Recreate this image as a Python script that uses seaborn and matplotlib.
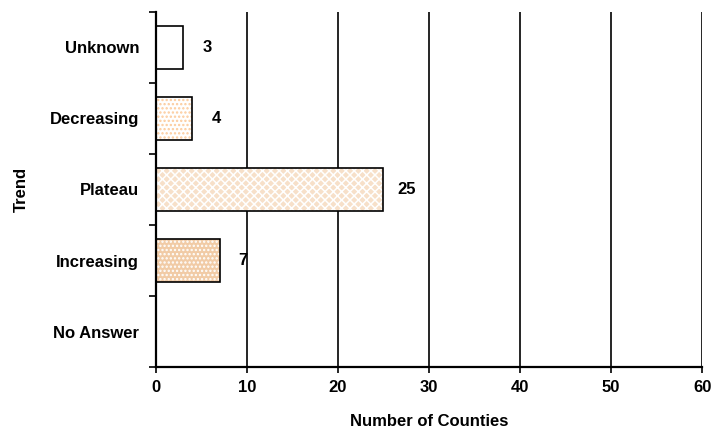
import numpy as np
import pandas as pd
import matplotlib
matplotlib.use("Agg")
import matplotlib.pyplot as plt
import seaborn as sns

# data
trends = ["Unknown", "Decreasing", "Plateau", "Increasing", "No Answer"]
counties = [3, 4, 25, 7, 0]
x_ticks = [0, 10, 20, 30, 40, 50, 60]

# look of each bar: fill, hatch pattern, hatch colour
bar_fill = {"Unknown": "white", "Decreasing": "white", "Plateau": "#FEE0C2",
            "Increasing": "#FDCB9A", "No Answer": "white"}
bar_hatch = {"Unknown": "", "Decreasing": "....", "Plateau": "xxxx",
             "Increasing": "....", "No Answer": ""}
hatch_col = {"Unknown": "white", "Decreasing": "#FCCB9C", "Plateau": "white",
             "Increasing": "white", "No Answer": "white"}

df = pd.DataFrame({"Trend": trends, "Counties": counties})

sns.set_style("white")
plt.rcParams["font.family"] = ["Liberation Sans", "DejaVu Sans"]
plt.rcParams["font.weight"] = "bold"
plt.rcParams["text.color"] = "black"
plt.rcParams["axes.labelcolor"] = "black"
plt.rcParams["xtick.color"] = "black"
plt.rcParams["ytick.color"] = "black"
plt.rcParams["hatch.linewidth"] = 1.1

fs = 12

fig = plt.figure(figsize=(7.15, 4.28), dpi=100)
ax = fig.add_axes([0.218, 0.1425, 0.764, 0.8295])

# hatched fill layer
sns.barplot(data=df, x="Counties", y="Trend", hue="Trend", order=trends,
            hue_order=trends, palette=bar_fill, width=0.6, linewidth=0,
            legend=False, ax=ax)
n_fill = len(ax.patches)
for p, t in zip(ax.patches, trends):
    p.set_hatch(bar_hatch[t])
    p.set_edgecolor(hatch_col[t])
    p.set_linewidth(0)

# black outline layer
sns.barplot(data=df, x="Counties", y="Trend", hue="Trend", order=trends,
            hue_order=trends, palette=bar_fill, width=0.6, legend=False, ax=ax)
for p in ax.patches[n_fill:]:
    p.set_facecolor("none")
    p.set_edgecolor("black")
    p.set_linewidth(1.2)
for p, v in zip(ax.patches[n_fill:], counties):
    if v == 0:
        p.set_visible(False)

# value labels
for i, v in enumerate(counties):
    if v > 0:
        ax.annotate(str(v), (v, i), xytext=(17, 0), textcoords="offset points",
                    ha="center", va="center", fontsize=fs, fontweight="bold",
                    color="black")

ax.set_xlim(0, 60)
ax.set_ylim(len(trends) - 0.5, -0.5)
ax.set_xticks(x_ticks)
ax.set_yticks(range(len(trends)))
ax.set_yticks(np.arange(-0.5, len(trends)), minor=True)
ax.tick_params(axis="y", which="major", length=0, pad=12, labelsize=fs)
ax.tick_params(axis="y", which="minor", length=5, width=1.2, color="black",
               direction="out", left=True)
ax.tick_params(axis="x", length=4, width=1.2, color="black", direction="out",
               bottom=True, pad=5, labelsize=fs)

ax.grid(axis="x", color="black", linewidth=1.2)
ax.grid(axis="y", visible=False)
ax.set_axisbelow(True)
for s in ["top", "right"]:
    ax.spines[s].set_visible(False)
for s in ["left", "bottom"]:
    ax.spines[s].set_color("black")
    ax.spines[s].set_linewidth(1.6)

ax.set_xlabel("Number of Counties", fontsize=fs, fontweight="bold", labelpad=14)
ax.set_ylabel("Trend", fontsize=fs, fontweight="bold", labelpad=15)

fig.savefig("out.png", dpi=100)
